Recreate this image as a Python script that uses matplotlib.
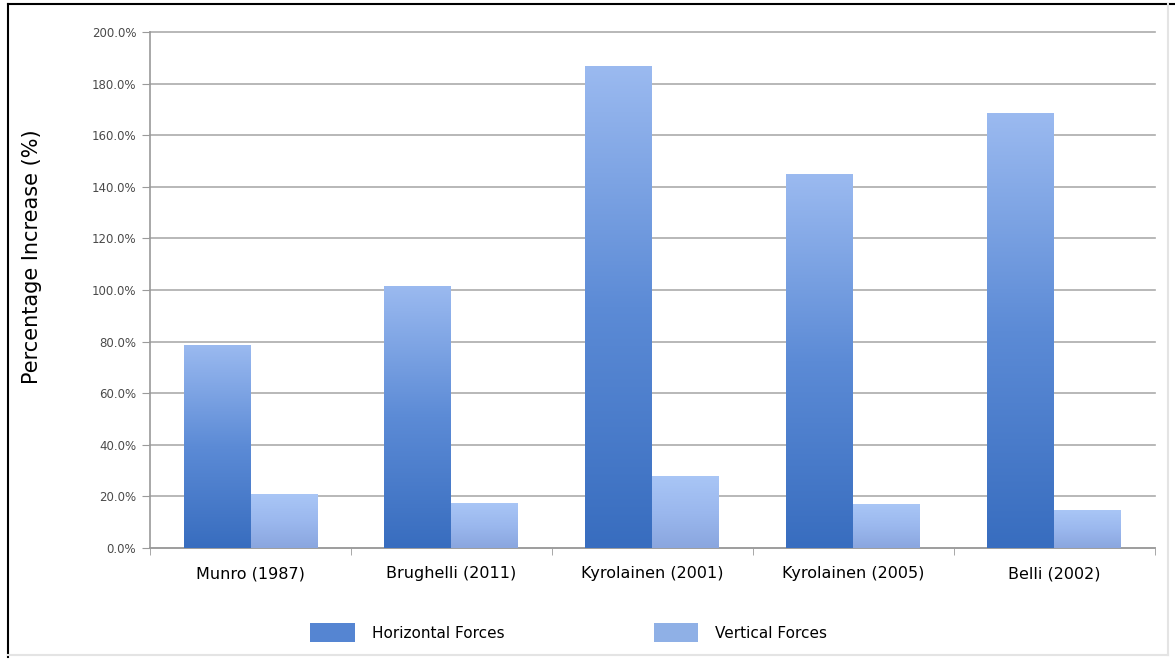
"""
Percentage increase in horizontal vs vertical forces, by study.
Excel-style clustered bars with a vertical gradient fill.
"""

import numpy as np
import matplotlib
matplotlib.use('Agg')
import matplotlib.pyplot as plt
from matplotlib.colors import LinearSegmentedColormap
from matplotlib.patches import Patch
from matplotlib.ticker import FuncFormatter

# Data
STUDIES = ['Munro (1987)', 'Brughelli (2011)', 'Kyrolainen (2001)',
           'Kyrolainen (2005)', 'Belli (2002)']
HORIZONTAL = [78.8, 101.7, 187.0, 144.8, 168.5]
VERTICAL = [20.9, 17.6, 28.0, 17.0, 14.6]
SERIES_NAMES = ['Horizontal Forces', 'Vertical Forces']

# Gradient colours (bottom -> top)
HORIZ_CMAP = LinearSegmentedColormap.from_list('horiz', ['#386dbf', '#5c8bd6', '#9bbaf0'])
VERT_CMAP = LinearSegmentedColormap.from_list('vert', ['#8aa6df', '#9bb8ee', '#a9c6f6'])
HORIZ_SOLID = '#5585d2'
VERT_SOLID = '#8fb0e6'

BAR_WIDTH = 1 / 3
FONT = 'DejaVu Sans'


def gradient_bars(ax, bars, cmap):
    """Replace the flat fill of each bar with a vertical gradient."""
    grad = np.linspace(0, 1, 256).reshape(-1, 1)
    for bar in bars:
        x0, y0 = bar.get_x(), bar.get_y()
        w, h = bar.get_width(), bar.get_height()
        bar.set_facecolor('none')
        bar.set_edgecolor('none')
        im = ax.imshow(grad, cmap=cmap, origin='lower', aspect='auto',
                       extent=(x0, x0 + w, y0, y0 + h), zorder=3)
        im.set_clip_path(bar)


def main():
    fig = plt.figure(figsize=(11.75, 6.59), dpi=100)
    ax = fig.add_axes([0.1277, 0.1685, 0.855, 0.783])

    x = np.arange(len(STUDIES))
    h_bars = ax.bar(x - BAR_WIDTH / 2, HORIZONTAL, BAR_WIDTH, zorder=3)
    v_bars = ax.bar(x + BAR_WIDTH / 2, VERTICAL, BAR_WIDTH, zorder=3)
    gradient_bars(ax, h_bars, HORIZ_CMAP)
    gradient_bars(ax, v_bars, VERT_CMAP)

    ax.set_xlim(-0.5, len(STUDIES) - 0.5)
    ax.set_ylim(0, 200)

    # y axis
    ax.set_yticks(np.arange(0, 201, 20))
    ax.yaxis.set_major_formatter(FuncFormatter(lambda v, _: f'{v:.1f}%'))
    ax.tick_params(axis='y', length=6, color='#9a9a9a', labelsize=8.5,
                   labelcolor='#4a4a4a', pad=4)
    ax.grid(axis='y', color='#ababab', linewidth=1.2, zorder=0)
    for gl in ax.get_ygridlines():
        gl.set_clip_on(False)
    ax.set_axisbelow(True)

    # x axis: labels at centres, ticks at category boundaries
    ax.set_xticks(x)
    ax.set_xticklabels(STUDIES, fontsize=11.5, family=FONT)
    ax.set_xticks(np.arange(-0.5, len(STUDIES)), minor=True)
    ax.tick_params(axis='x', which='major', length=0, pad=13)
    ax.tick_params(axis='x', which='minor', length=5, color='#9a9a9a')

    for side in ['top', 'right']:
        ax.spines[side].set_visible(False)
    for side in ['left', 'bottom']:
        ax.spines[side].set_color('#9a9a9a')
        ax.spines[side].set_linewidth(1.2)

    ax.set_ylabel('Percentage Increase (%)', fontsize=15, family=FONT)
    ax.yaxis.set_label_coords(-0.108, 0.565)

    # Legend below the plot
    handles = [Patch(facecolor=HORIZ_SOLID, edgecolor='none'),
               Patch(facecolor=VERT_SOLID, edgecolor='none')]
    fig.legend(handles, SERIES_NAMES, loc='center', bbox_to_anchor=(0.484, 0.04),
               ncol=2, frameon=False, fontsize=11, handlelength=2.9, handleheight=1.5,
               columnspacing=9.8, handletextpad=1.1)

    # Outer frame: dark top/left, faint right/bottom
    fig.add_artist(plt.Line2D([0.0068, 0.0068], [0.003, 0.994], color='black', lw=1.5,
                              transform=fig.transFigure))
    fig.add_artist(plt.Line2D([0.0068, 1.0], [0.994, 0.994], color='black', lw=1.5,
                              transform=fig.transFigure))
    fig.add_artist(plt.Line2D([0.994, 0.994], [0.006, 0.994], color='#e4e4e4', lw=1.5,
                              transform=fig.transFigure))
    fig.add_artist(plt.Line2D([0.0068, 0.994], [0.006, 0.006], color='#e4e4e4', lw=1.5,
                              transform=fig.transFigure))

    fig.savefig('out.png', dpi=100)
    plt.close(fig)


if __name__ == '__main__':
    main()
